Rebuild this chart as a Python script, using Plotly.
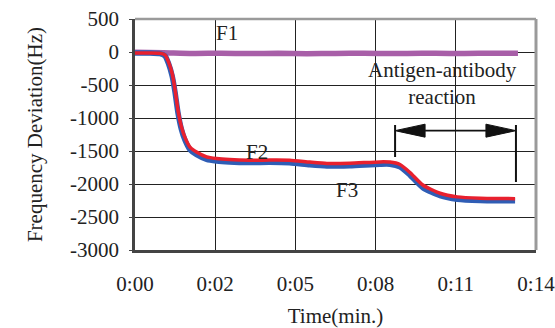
import plotly.graph_objects as go

# ---------------- data ----------------
# time in minutes
time_red = [0.0, 0.52, 0.87, 1.05, 1.17, 1.30, 1.40, 1.50, 1.62, 1.74, 1.92, 2.15, 2.50, 2.85,
            3.30, 4.00, 4.70, 5.40, 6.10, 6.70, 7.50, 8.55, 8.90, 9.25, 9.60, 10.05, 10.65,
            11.25, 12.05, 13.27]
freq_red = [-15, -15, -20, -45, -150, -330, -575, -880, -1130, -1290, -1440, -1515, -1590, -1615,
            -1630, -1640, -1638, -1640, -1668, -1688, -1685, -1665, -1668, -1705, -1825, -2015, -2140,
            -2195, -2215, -2222]

time_blue = time_red
freq_blue = [-15, -15, -25, -60, -175, -370, -615, -920, -1170, -1330, -1480, -1555, -1625, -1650,
             -1665, -1675, -1672, -1680, -1710, -1728, -1722, -1700, -1700, -1740, -1865, -2055, -2175,
             -2230, -2250, -2255]

time_f1 = [0.0, 1.0, 2.0, 3.0, 4.0, 5.0, 6.0, 7.0, 8.0, 9.0, 10.0, 11.0, 12.0, 13.37]
freq_f1 = [-5, -12, -22, -18, -24, -20, -26, -22, -18, -24, -18, -22, -20, -20]

x_tickvals = [0, 2.8, 5.6, 8.4, 11.2, 14]
x_ticktext = ["0:00", "0:02", "0:05", "0:08", "0:11", "0:14"]
y_tickvals = [500, 0, -500, -1000, -1500, -2000, -2500, -3000]
y_ticktext = ["500", "0", "-500", "-1000", "-1500", "-2000", "-2500", "-3000"]

x_range = [0, 14.0001]
y_range = [-3000, 500]

# antigen-antibody reaction window (minutes)
reaction_start = 9.08
reaction_end = 13.3

# ---------------- layout geometry ----------------
W, H = 555, 328
ML, MR, MT, MB = 135, 19, 19, 78
plot_w = W - ML - MR
plot_h = H - MT - MB
dx_per_px = (x_range[1] - x_range[0]) / plot_w
dy_per_px = (y_range[1] - y_range[0]) / plot_h

FONT = "Liberation Serif"
FS = 21

fig = go.Figure()
fig.add_trace(go.Scatter(x=time_f1, y=freq_f1, mode="lines", name="F1",
                         line=dict(color="#A85FA8", width=5.5, shape="spline", smoothing=0.6)))
fig.add_trace(go.Scatter(x=time_blue, y=freq_blue, mode="lines", name="blue",
                         line=dict(color="#2F5DB5", width=5.5, shape="spline", smoothing=0.6)))
fig.add_trace(go.Scatter(x=time_red, y=freq_red, mode="lines", name="red",
                         line=dict(color="#E8202E", width=3.5, shape="spline", smoothing=0.6)))

# arrow geometry
arrow_y = -1192
head_len = 30 * dx_per_px
head_half = 6.5 * dy_per_px
shapes = []
# vertical markers
shapes.append(dict(type="line", xref="x", yref="y", x0=reaction_start, x1=reaction_start,
                   y0=-1106, y1=-1591, line=dict(color="#111", width=2)))
shapes.append(dict(type="line", xref="x", yref="y", x0=reaction_end, x1=reaction_end,
                   y0=-1106, y1=-1970, line=dict(color="#111", width=2)))
# shaft
shapes.append(dict(type="line", xref="x", yref="y", x0=reaction_start + head_len, x1=reaction_end - head_len,
                   y0=arrow_y, y1=arrow_y, line=dict(color="#111", width=1.8)))
# heads
shapes.append(dict(type="path", xref="x", yref="y",
                   path=f"M {reaction_start} {arrow_y} L {reaction_start + head_len} {arrow_y + head_half} "
                        f"L {reaction_start + head_len} {arrow_y - head_half} Z",
                   fillcolor="#111", line=dict(color="#111", width=1)))
shapes.append(dict(type="path", xref="x", yref="y",
                   path=f"M {reaction_end} {arrow_y} L {reaction_end - head_len} {arrow_y + head_half} "
                        f"L {reaction_end - head_len} {arrow_y - head_half} Z",
                   fillcolor="#111", line=dict(color="#111", width=1)))
# top and right gray frame (paper refs are not clipped)
shapes.append(dict(type="line", xref="paper", yref="paper", x0=0, x1=1, y0=1, y1=1,
                   line=dict(color="#9a9a9a", width=2.5), layer="above"))
shapes.append(dict(type="line", xref="paper", yref="paper", x0=1, x1=1, y0=0, y1=1,
                   line=dict(color="#9a9a9a", width=3), layer="above"))

annotations = [
    dict(x=3.21, y=288, xref="x", yref="y", text="F1", showarrow=False),
    dict(x=4.26, y=-1515, xref="x", yref="y", text="F2", showarrow=False),
    dict(x=7.40, y=-2091, xref="x", yref="y", text="F3", showarrow=False),
    dict(x=10.72, y=-470, xref="x", yref="y", text="Antigen-antibody<br>reaction", showarrow=False),
]
for a in annotations:
    a["font"] = dict(family=FONT, size=FS, color="#222")

fig.update_layout(
    width=W, height=H,
    margin=dict(l=ML, r=MR, t=MT, b=MB, autoexpand=False),
    paper_bgcolor="white", plot_bgcolor="white",
    showlegend=False,
    font=dict(family=FONT, size=FS, color="#222"),
    shapes=shapes,
    annotations=annotations,
)
fig.update_xaxes(
    range=x_range, tickvals=x_tickvals, ticktext=x_ticktext, automargin=False,
    showgrid=True, gridcolor="#222", gridwidth=1,
    showline=True, linecolor="#444", linewidth=2.5,
    ticks="", ticklabelstandoff=13, ticklabeloverflow="allow", zeroline=False,
    title=dict(text="Time(min.)", standoff=21, font=dict(family=FONT, size=FS, color="#222")),
)
fig.update_yaxes(
    range=y_range, tickvals=y_tickvals, ticktext=y_ticktext, automargin=False,
    showgrid=True, gridcolor="#222", gridwidth=1,
    showline=True, linecolor="#444", linewidth=2.5,
    ticks="outside", ticklen=3, tickcolor="#444", ticklabelstandoff=6, zeroline=False,
    title=dict(text="Frequency Deviation(Hz)", standoff=22, font=dict(family=FONT, size=FS, color="#222")),
)

fig.write_html("out.html", config={"displayModeBar": False},
               post_script="document.body.style.margin='0px';")
